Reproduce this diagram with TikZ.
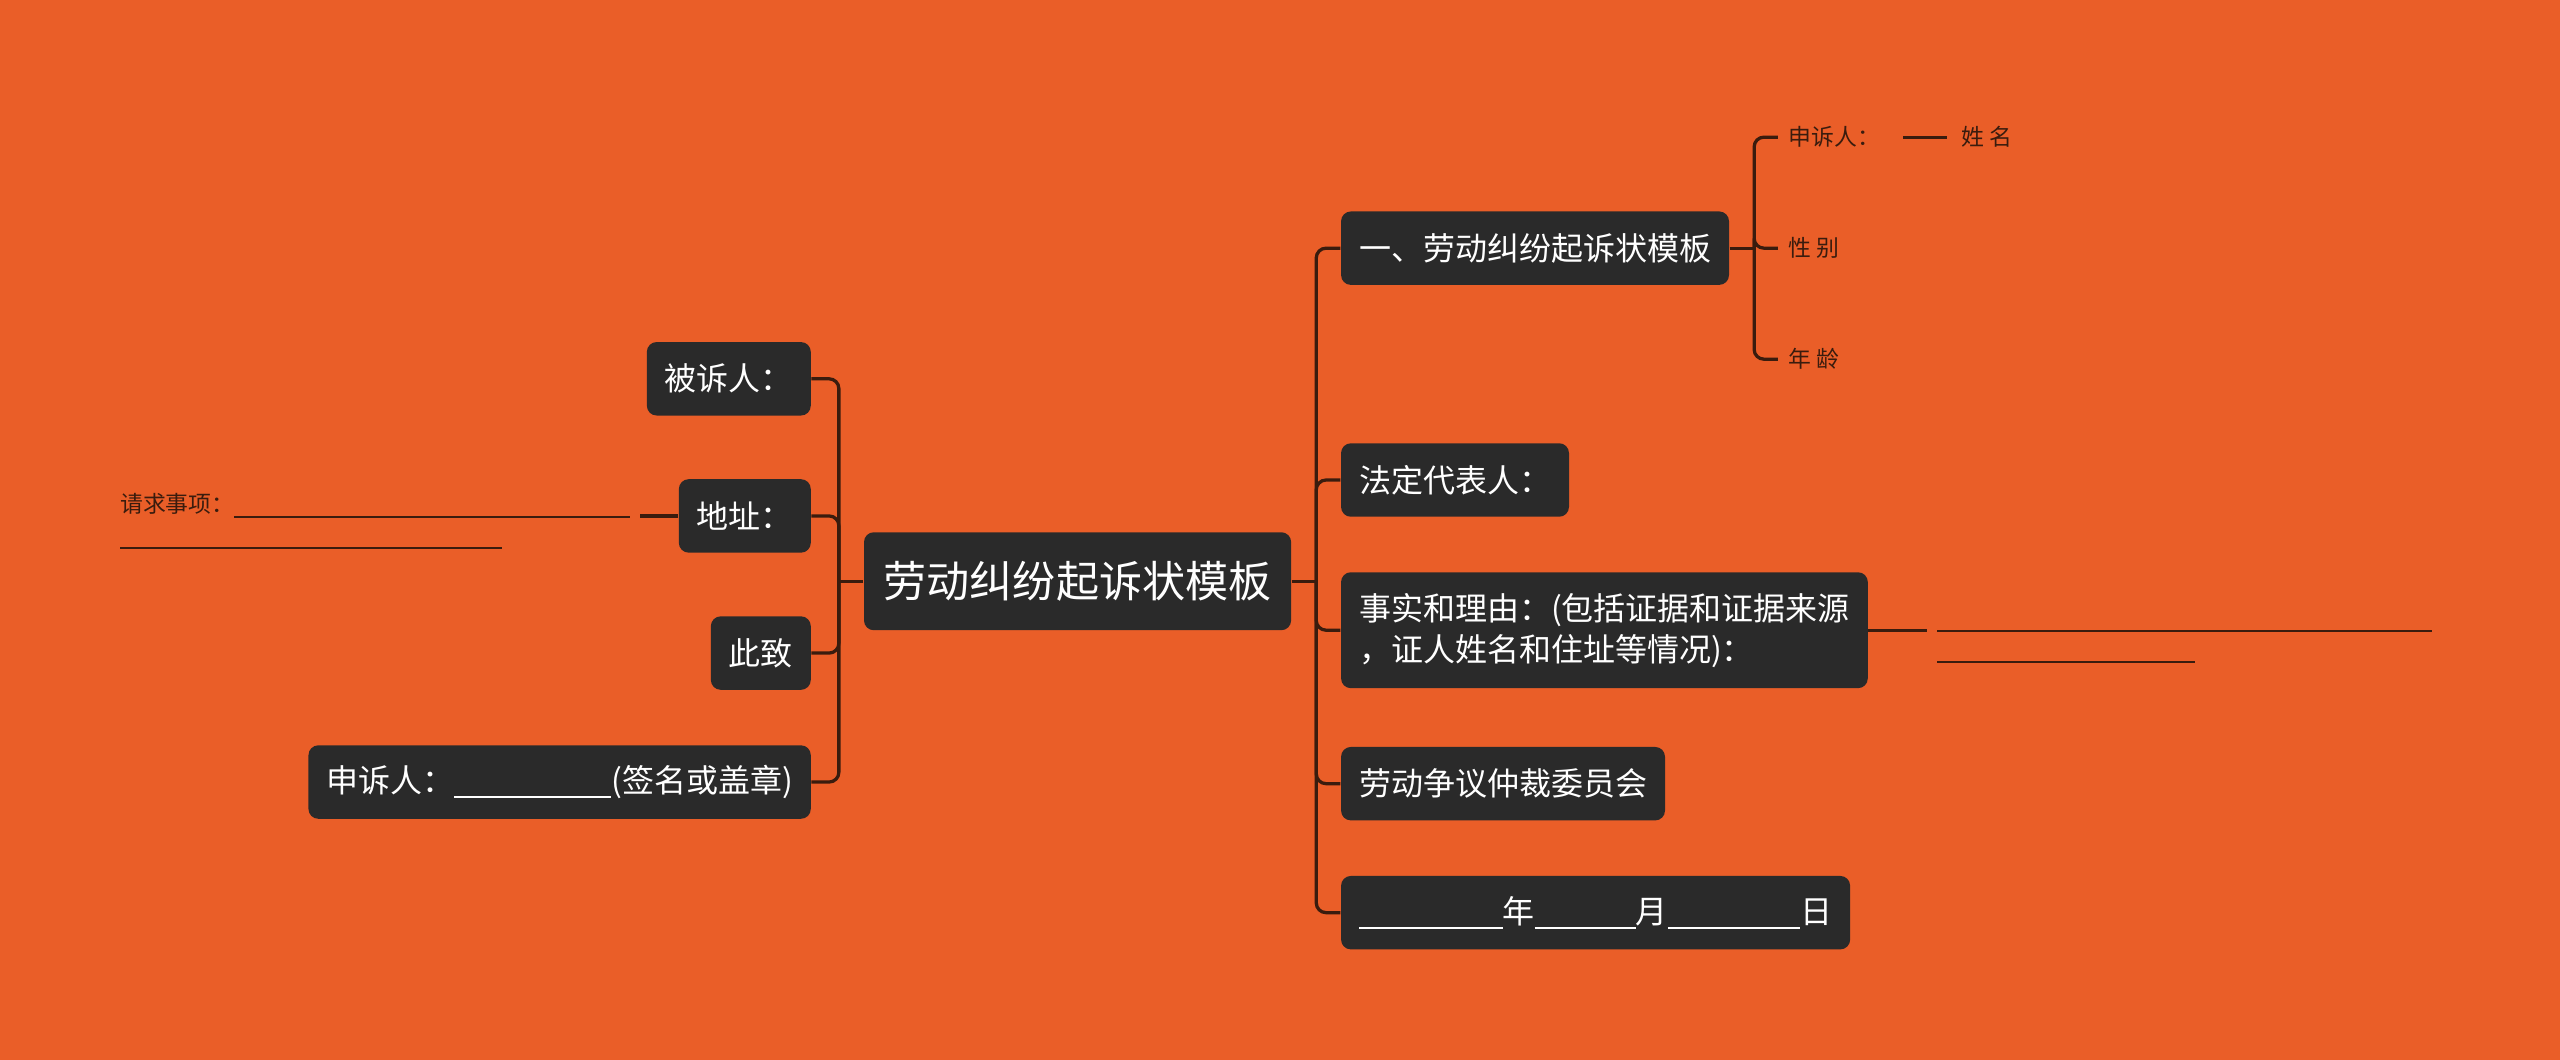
\documentclass[tikz,border=0pt]{standalone}
\usepackage{fontspec}
\newfontfamily\cjk{Noto Sans CJK SC}
\usetikzlibrary{positioning}
\definecolor{bgorange}{RGB}{234,94,40}
\definecolor{boxgray}{RGB}{42,42,42}
\definecolor{linkbrown}{RGB}{58,28,14}
\newcommand\blankline[1]{\rule[-1.6pt]{#1}{0.6pt}}

\tikzset{
  topic/.style={fill=boxgray,rounded corners=3pt,text=white,
    font=\cjk\fontsize{9.8}{12.5}\selectfont,inner xsep=5.5pt,minimum height=22.5pt},
  central/.style={topic,font=\cjk\fontsize{13.2}{16}\selectfont,inner xsep=6pt,minimum height=30pt},
  note/.style={text=linkbrown,font=\cjk\fontsize{7}{9.5}\selectfont,inner xsep=3pt,inner ysep=1pt},
  link/.style={draw=linkbrown,line width=1pt,rounded corners=3pt},
}

\begin{document}
\begin{tikzpicture}[x=0.5pt,y=-0.5pt]
  \fill[bgorange] (0,0) rectangle (1568,649);
  \useasboundingbox (0,0) rectangle (1568,649);

  \node[central] (root) at (660,356) {劳动纠纷起诉状模板};

  % left side
  \node[topic,anchor=east] (bs) at (497,232) {被诉人：};
  \node[topic,anchor=east] (dz) at (497,316) {地址：};
  \node[topic,anchor=east] (cz) at (497,400) {此致};
  \node[topic,anchor=east] (ssr) at (497,479) {申诉人：\blankline{48pt}(签名或盖章)};
  \node[note,anchor=east,align=left] (qq) at (392,319) {请求事项：\blankline{121pt}\\\blankline{117pt}};

  % right side
  \node[topic,anchor=west] (mb) at (821,152) {一、劳动纠纷起诉状模板};
  \node[topic,anchor=west] (fd) at (821,294) {法定代表人：};
  \node[topic,anchor=west,align=left,minimum height=35.5pt] (ss) at (821,386)
    {事实和理由：(包括证据和证据来源\\，证人姓名和住址等情况)：};
  \node[topic,anchor=west] (ld) at (821,480) {劳动争议仲裁委员会};
  \node[topic,anchor=west] (rq) at (821,559) {\blankline{44pt}年\blankline{31pt}月\blankline{40.5pt}日};
  \node[note,anchor=west,align=left] (sl) at (1180,395) {\blankline{151.5pt}\\\blankline{79pt}};

  \node[note,anchor=west] (s1) at (1089,84) {申诉人：};
  \node[note,right=18.5pt of s1] (xm) {姓 名};
  \node[note,anchor=west] (xb) at (1089,152) {性 别};
  \node[note,anchor=west] (nl) at (1089,220) {年 龄};

  % connectors
  \coordinate (lj) at ([xshift=-7.5pt]root.west);
  \coordinate (rj) at ([xshift=7.5pt]root.east);
  \coordinate (mj) at ([xshift=7.5pt]mb.east);
  \draw[link] (root.west) -- (lj);
  \foreach \n in {bs,dz,cz,ssr}
    \draw[link] (lj) |- (\n.east);
  \draw[link] (root.east) -- (rj);
  \foreach \n in {mb,fd,ss,ld,rq}
    \draw[link] (rj) |- (\n.west);
  \draw[link] (mb.east) -- (mj);
  \foreach \n in {s1,xb,nl}
    \draw[link] (mj) |- (\n.west);
  \draw[link] ([xshift=4pt]s1.east) -- ([xshift=-1pt]xm.west);
  \draw[link] (dz.west) -- (dz.west -| qq.east);
  \draw[link] (ss.east) -- (ss.east -| sl.west);
\end{tikzpicture}
\end{document}
